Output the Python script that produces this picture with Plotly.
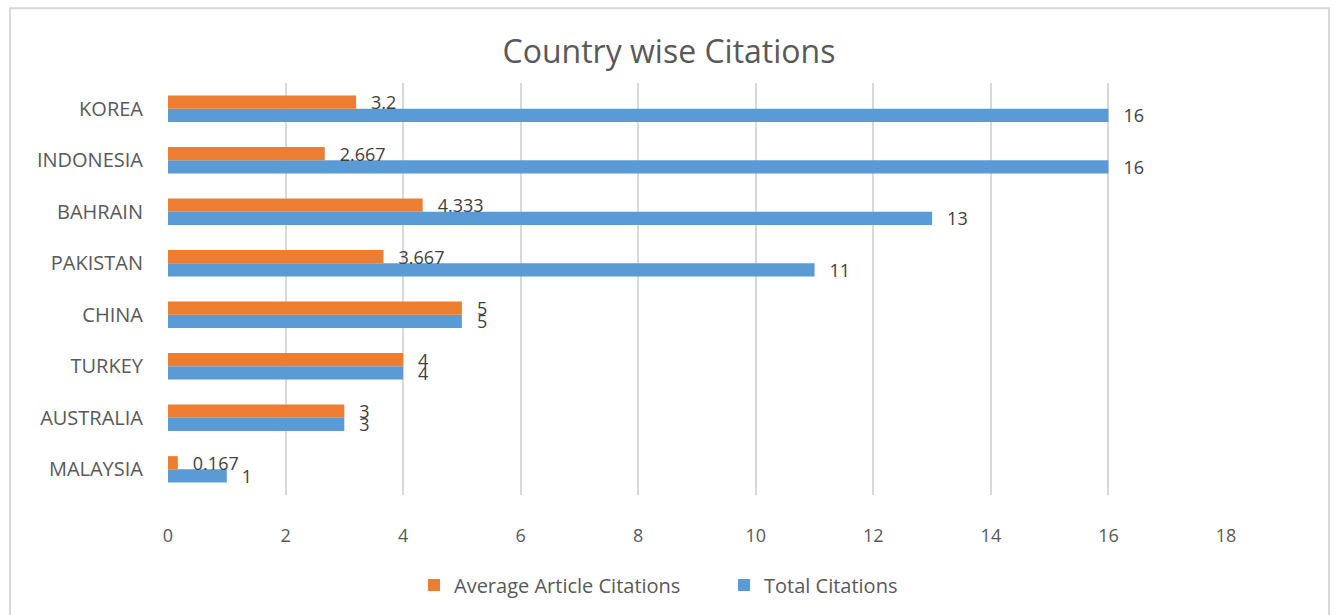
import plotly.graph_objects as go

countries = ["MALAYSIA", "AUSTRALIA", "TURKEY", "CHINA", "PAKISTAN", "BAHRAIN", "INDONESIA", "KOREA"]
avg_citations = [0.167, 3, 4, 5, 3.667, 4.333, 2.667, 3.2]
avg_labels = ["0.167", "3", "4", "5", "3.667", "4.333", "2.667", "3.2"]
total_citations = [1, 3, 4, 5, 11, 13, 16, 16]
x_ticks = [0, 2, 4, 6, 8, 10, 12, 14, 16, 18]

FONT = "Open Sans"
TXT = "#595959"
PAD = "\u2002\u2009"

fig = go.Figure()
fig.add_trace(go.Bar(
    y=countries, x=total_citations, orientation="h", name="Total Citations",
    marker=dict(color="#5B9BD5", line=dict(width=0)),
    text=[PAD + str(v) for v in total_citations], textposition="outside",
    constraintext="none",
    textfont=dict(family=FONT, size=18, color="#404040"), cliponaxis=False,
))
fig.add_trace(go.Bar(
    y=countries, x=avg_citations, orientation="h", name="Average Article Citations",
    marker=dict(color="#ED7D31", line=dict(width=0)),
    text=[PAD + s for s in avg_labels], textposition="outside",
    constraintext="none",
    textfont=dict(family=FONT, size=18, color="#404040"), cliponaxis=False,
))

L, R, T, B = 168, 110, 83, 119
W, H = 1336, 615
pw, ph = W - L - R, H - T - B

fig.update_layout(
    width=W, height=H,
    margin=dict(l=L, r=R, t=T, b=B),
    paper_bgcolor="white", plot_bgcolor="white",
    barmode="group", bargap=0.49, bargroupgap=0,
    uniformtext=dict(mode=False),
    title=dict(text="Country wise Citations", x=669 / W, xref="container", xanchor="center",
               y=1 - 52 / H, yanchor="middle",
               font=dict(family=FONT, size=32, color=TXT)),
    font=dict(family=FONT, color=TXT),
    xaxis=dict(range=[0, 18], tickvals=x_ticks, showgrid=True, gridcolor="#D9D9D9",
               gridwidth=1.5, zeroline=False, showline=False, ticks="",
               tickfont=dict(family=FONT, size=18, color=TXT), ticklabelstandoff=28),
    yaxis=dict(showgrid=False, zeroline=False, showline=False, ticks="",
               tickfont=dict(family=FONT, size=20, color=TXT), ticklabelstandoff=24),
    legend=dict(orientation="h", x=(724 - L) / pw, xanchor="center", y=-(585 - (T + ph)) / ph,
                yanchor="middle", traceorder="reversed",
                font=dict(family=FONT, size=20, color=TXT),
                itemwidth=30, entrywidth=265),
    showlegend=True,
    shapes=[dict(type="rect", xref="paper", yref="paper",
                 x0=(10 - L) / pw, x1=(1329 - L) / pw,
                 y0=(T + ph - 640) / ph, y1=(T + ph - 8) / ph,
                 line=dict(color="#D9D9D9", width=2), fillcolor="rgba(0,0,0,0)", layer="below")],
)

fig.write_html("out.html")
